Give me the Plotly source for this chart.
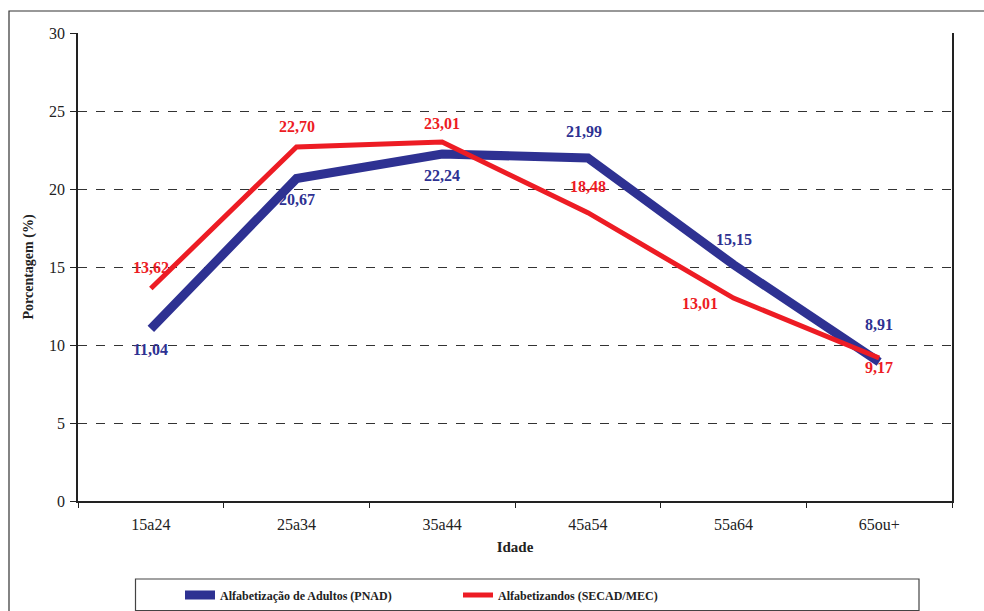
import plotly.graph_objects as go

categories = ["15a24", "25a34", "35a44", "45a54", "55a64", "65ou+"]
pnad = [11.04, 20.67, 22.24, 21.99, 15.15, 8.91]
secad = [13.62, 22.70, 23.01, 18.48, 13.01, 9.17]
pnad_name = "Alfabetização de Adultos (PNAD)"
secad_name = "Alfabetizandos (SECAD/MEC)"
y_ticks = [0, 5, 10, 15, 20, 25, 30]

BLUE = "#2E3192"
RED = "#ED1C24"
FONT = "Liberation Serif"

# label offsets (px): (xshift, yshift)
pnad_off = [(0, -21), (0, -21), (0, -21), (-4, 26), (0, 25), (0, 38)]
secad_off = [(0, 21), (0, 20), (0, 19), (0, 26), (-34, -5), (0, -10)]

fig = go.Figure()
fig.add_trace(go.Scatter(x=categories, y=pnad, mode="lines", name=pnad_name,
                         line=dict(color=BLUE, width=9)))
fig.add_trace(go.Scatter(x=categories, y=secad, mode="lines", name=secad_name,
                         line=dict(color=RED, width=5)))

def fmt(v):
    return f"{v:.2f}".replace(".", ",")

for vals, offs, col in [(pnad, pnad_off, BLUE), (secad, secad_off, RED)]:
    for c, v, (dx, dy) in zip(categories, vals, offs):
        fig.add_annotation(x=c, y=v, text=fmt(v), showarrow=False,
                           xshift=dx, yshift=dy,
                           font=dict(family=FONT, size=16, color=col, weight="bold"))

W, H = 984, 611
L, R, T, B = 78, 32, 33, 110
pw, ph = W - L - R, H - T - B

def px(x):
    return (x - L) / pw

def py(y):
    return (H - B - y) / ph

# outer frame
fig.add_shape(type="rect", xref="paper", yref="paper",
              x0=px(9), x1=px(995), y0=py(625), y1=py(11),
              line=dict(color="#333333", width=1.2), layer="below")
# legend box
fig.add_shape(type="rect", xref="paper", yref="paper",
              x0=px(135.5), x1=px(919), y0=py(610.5), y1=py(579),
              line=dict(color="#444444", width=1.2), layer="below")

fig.update_layout(
    width=W, height=H,
    margin=dict(l=L, r=R, t=T, b=B, autoexpand=False),
    paper_bgcolor="white", plot_bgcolor="white",
    font=dict(family=FONT, size=16, color="#222222"),
    showlegend=True,
    legend=dict(orientation="h", x=px(180), y=py(595), xanchor="left", yanchor="middle",
                entrywidth=233, entrywidthmode="pixels",
                font=dict(family=FONT, size=12, color="#222222", weight="bold"),
                bgcolor="rgba(0,0,0,0)", itemwidth=30),
    xaxis=dict(
        range=[-0.5, 5.5], automargin=False,
        showline=True, linecolor="#222222", linewidth=1.5,
        ticks="outside", tickson="boundaries", ticklen=5, tickcolor="#222222",
        ticklabelstandoff=8,
        showgrid=False, mirror=False,
        title=dict(text="Idade", font=dict(family=FONT, size=15, weight="bold"), standoff=10),
        tickfont=dict(family=FONT, size=16),
    ),
    yaxis=dict(
        range=[0, 30], tickvals=y_ticks, automargin=False,
        showline=True, linecolor="#222222", linewidth=1.5, mirror=True,
        ticks="outside", ticklen=6, tickcolor="#222222",
        ticklabelstandoff=2,
        showgrid=True, gridcolor="#333333", griddash="dash", gridwidth=1,
        zeroline=False,
        title=dict(text="Porcentagem (%)", font=dict(family=FONT, size=14, weight="bold"), standoff=12),
        tickfont=dict(family=FONT, size=16),
    ),
)

fig.write_html("out.html",
               config={"displayModeBar": False},
               post_script="document.body.style.margin='0';document.body.style.overflow='hidden';")
